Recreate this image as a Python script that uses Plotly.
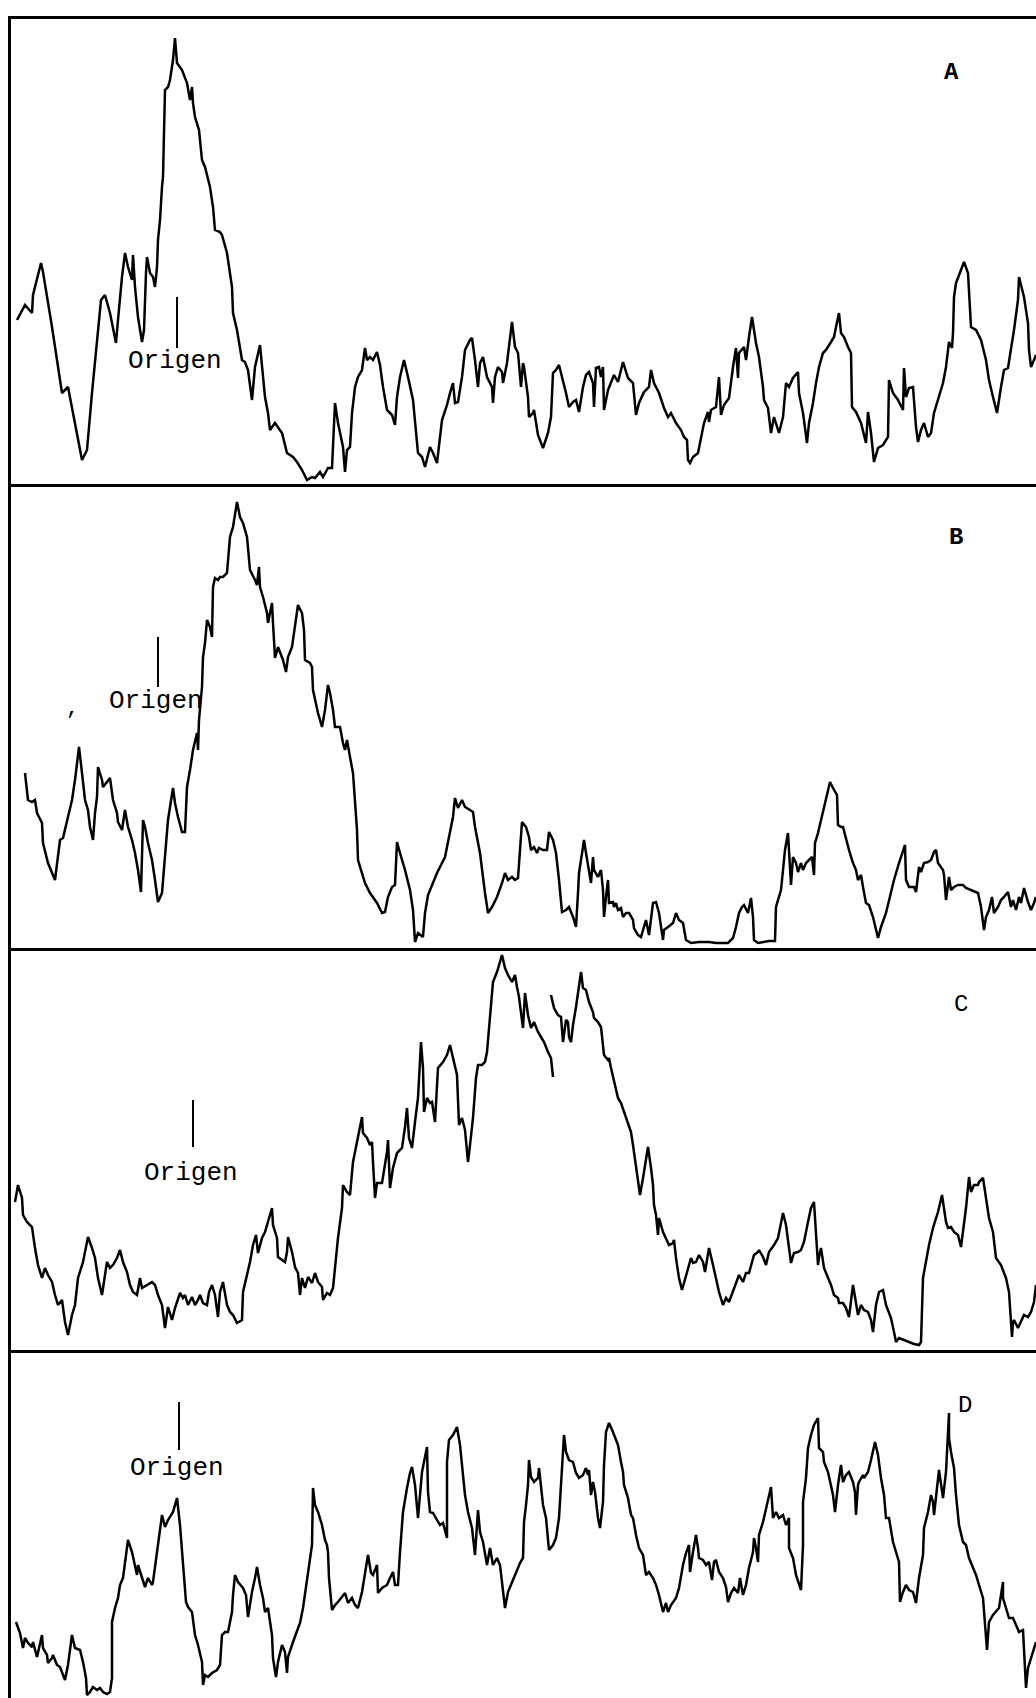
import plotly.graph_objects as go

# ---- Panel A : densitometer trace (position along strip, density above baseline)
a_pos = [17,25,32,33,41,43,52,62,68,82,87,92,101,105,110,116,118,122,125,128,132,133,135,138,142,144,146,147,150,153,155,157,158,160,162,163,164,165,168,170,173,175,177,182,187,190,192,193,195,199,202,205,210,213,215,220,222,227,232,233,237,240,242,245,248,252,255,260,262,265,268,270,275,278,282,287,293,297,302,307,312,315,320,323,328,332,335,338,343,345,347,350,352,355,358,362,365,367,370,373,377,380,383,387,392,395,397,400,404,408,413,418,422,425,430,433,437,442,447,450,453,455,458,462,465,470,472,475,478,480,483,487,492,493,495,498,502,503,507,512,515,518,
         521,523,524,528,529,533,534,538,543,548,551,553,556,559,563,566,569,573,576,579,583,586,589,593,594,596,599,601,603,604,608,611,614,618,621,623,628,633,636,639,644,649,651,654,659,664,668,671,676,681,684,687,688,690,693,698,701,704,708,709,711,716,719,721,724,729,733,736,738,739,744,746,749,752,756,759,763,764,768,771,774,778,779,783,786,789,793,798,799,803,807,809,813,816,819,823,826,831,834,836,839,841,844,848,851,852,856,861,866,868,871,874,878,883,888,889,893,898,903,904,906,909,913,916,918,921,924,928,931,934,939,943,946,948,949,952,953,954,956,961,964,968,971,976,981,986,989,993,997,1001,1004,1008,1011,1014,1018,1019,1024,1028,1029,1031,1034,1036]
a_val = [164,179,171,189,221,212,157,91,97,24,34,91,184,189,171,141,164,207,231,217,204,229,197,167,142,154,211,227,211,207,197,217,244,264,297,307,351,394,397,404,424,446,421,414,401,384,397,381,367,354,324,317,297,277,254,252,249,231,197,171,154,134,124,122,114,84,117,139,117,87,71,54,61,57,51,31,27,22,14,4,7,6,12,7,16,16,81,61,37,12,34,37,71,97,107,114,136,124,127,124,132,119,97,74,69,59,87,107,124,107,84,31,27,17,37,31,21,64,79,91,101,81,82,107,134,144,146,124,97,121,127,107,97,81,107,117,112,101,121,162,137,131,
         97,121,117,87,67,71,74,49,36,51,67,111,114,119,104,91,77,82,84,72,97,109,112,101,77,116,117,107,117,74,94,101,109,102,114,122,106,101,69,81,92,97,114,101,91,76,67,71,61,54,47,44,24,21,27,31,46,61,72,62,74,77,107,69,79,86,117,136,106,131,137,124,147,167,141,127,97,84,76,51,67,52,51,67,101,97,106,112,91,71,41,61,81,101,117,131,134,142,147,157,171,151,147,137,131,77,72,61,41,72,51,22,36,39,47,104,91,84,74,116,87,96,97,57,42,54,61,47,51,71,87,101,117,134,142,136,151,187,201,214,222,211,157,154,144,124,104,87,71,97,114,116,134,154,184,207,187,161,134,117,124,129]

# ---- Panel B
b_pos = [25,28,32,35,37,42,43,48,55,58,60,63,67,72,75,79,82,85,88,90,93,95,97,98,102,103,107,110,113,117,118,122,125,128,132,135,138,141,143,145,148,152,155,158,162,165,168,173,175,178,182,185,187,190,193,197,198,199,202,203,205,207,210,212,213,215,218,220,223,227,228,230,233,237,240,243,247,248,250,255,257,259,260,263,267,268,272,273,275,278,283,286,288,292,295,298,302,304,305,310,312,313,318,322,325,328,330,333,335,340,343,345,347,348,350,353,355,357,358,362,365,370,375,377,382,385,388,392,395,397,400,405,410,413,415,418,423,425,428,433,437,442,445,447,450,453,455,458,462,465,470,473,475,480,485,488,492,497,502,505,508,512,515,518,522,526,529,531,534,537,539,543,547,549,553,556,559,562,566,569,573,576,578,579,583,584,586,589,591,593,594,598,601,603,604,606,608,609,613,614,616,618,621,623,626,629,633,634,638,641,644,646,649,653,656,659,663,664,668,673,676,679,683,686,691,699,709,716,728,733,736,739,742,744,748,751,753,754,758,763,769,775,776,778,781,783,785,788,789,791,793,796,798,801,803,806,809,812,814,815,818,821,824,828,830,833,837,838,841,843,846,849,853,856,858,861,863,866,869,873,878,881,886,889,894,899,905,906,909,914,916,919,921,924,928,931,934,936,938,943,944,946,949,951,954,958,963,966,971,978,981,983,984,986,989,992,994,998,1001,1004,1008,1011,1013,1016,1019,1021,1024,1028,1031,1034,1036]
b_val = [175,148,146,148,135,125,105,85,68,91,108,110,128,148,168,201,175,148,138,121,108,135,151,181,168,161,166,170,148,135,126,118,138,121,108,95,78,56,128,121,105,88,68,46,55,95,128,160,145,131,116,116,161,178,198,215,198,228,261,291,305,328,321,311,361,370,368,371,371,375,388,411,421,446,431,425,411,398,378,368,363,381,361,351,335,325,345,325,290,301,288,276,291,301,321,343,335,318,288,285,281,258,235,221,238,263,255,238,221,221,205,198,208,201,191,175,151,118,88,75,65,55,48,45,35,36,51,61,63,106,95,78,58,38,6,15,11,35,53,65,75,85,91,101,115,131,150,140,148,141,138,136,121,95,55,35,41,51,65,75,68,71,68,70,126,121,111,98,101,95,100,98,98,116,108,95,68,36,38,41,31,21,55,75,101,108,95,78,65,91,78,71,78,58,31,51,68,45,46,41,45,38,40,31,35,35,28,20,13,11,20,28,13,45,46,35,8,18,21,25,35,28,25,8,5,6,6,5,5,10,21,35,41,43,35,50,31,8,5,6,7,7,41,48,58,78,98,115,95,63,91,85,76,85,78,85,88,91,73,105,115,128,141,155,166,160,153,123,121,121,108,98,85,78,68,73,61,45,43,31,10,21,35,48,68,85,103,68,61,61,56,81,76,85,86,88,96,98,85,78,73,48,71,58,61,63,63,60,58,55,41,25,18,31,38,51,35,41,48,51,56,41,48,38,51,45,60,46,38,45,51]

# ---- Panel C (None = pen lift in the original trace)
c_pos = [15,18,22,23,27,32,35,38,42,45,48,52,55,58,62,65,68,72,75,78,83,88,92,95,98,102,105,107,110,113,117,120,123,127,130,133,137,140,142,147,152,155,158,162,163,165,168,172,175,180,183,185,188,192,195,198,200,203,207,209,212,215,218,220,223,227,230,233,237,242,243,247,250,253,256,258,262,265,268,272,273,277,278,282,285,287,288,292,295,298,300,302,305,308,312,315,318,322,323,327,330,333,335,338,342,343,347,350,353,358,362,363,367,370,372,373,375,377,382,387,388,390,393,397,402,405,407,409,412,415,418,421,423,424,427,430,432,435,437,438,443,447,450,453,457,459,462,465,468,470,473,476,478,482,485,487,490,492,493,497,502,505,508,512,515,517,519,523,525,528,531,534,538,541,544,548,551,553,None,551,554,558,561,563,564,566,568,569,571,573,576,579,581,583,586,589,593,594,598,601,603,604,608,609,611,613,616,618,621,624,628,631,633,636,640,643,646,648,651,653,654,656,658,659,663,666,669,673,674,676,679,682,686,689,691,693,696,699,703,705,709,713,716,719,723,726,729,734,739,743,746,749,753,754,758,759,763,766,769,774,778,783,786,789,791,794,798,801,804,808,811,814,816,818,819,821,824,828,831,834,838,839,843,846,849,853,856,858,861,864,868,871,873,876,879,883,886,891,894,896,899,904,909,914,919,921,923,926,929,933,938,942,944,946,948,951,954,958,961,963,966,969,971,974,978,979,983,986,989,993,996,1001,1006,1009,1012,1013,1014,1018,1021,1024,1028,1031,1034,1036]
c_val = [148,165,152,135,128,123,102,85,72,82,75,68,55,45,50,28,15,35,45,72,88,113,102,92,72,55,75,88,82,85,92,100,88,78,65,58,55,72,62,65,68,65,55,45,38,22,43,30,42,57,52,55,45,53,45,50,55,47,45,58,65,55,33,58,68,45,38,35,27,30,58,75,88,105,115,97,112,118,128,142,125,112,93,90,88,98,113,98,83,77,55,72,62,73,67,77,68,63,50,57,55,62,82,112,142,165,158,155,188,215,233,217,212,205,208,188,152,167,167,198,210,162,182,197,202,223,242,212,202,228,252,308,282,238,252,247,248,228,258,282,288,295,305,292,275,225,232,220,188,205,232,272,285,285,288,298,335,358,368,378,395,382,375,368,375,363,353,322,357,335,322,328,318,313,308,298,292,273,None,355,342,335,333,308,315,330,328,313,308,325,343,362,378,362,360,348,338,332,328,323,308,295,290,292,282,273,258,252,247,238,228,218,205,185,155,172,192,203,182,165,145,135,115,132,118,112,105,107,110,92,72,60,75,85,92,87,88,95,88,78,102,85,72,58,45,52,48,62,75,68,77,77,90,95,98,100,93,85,98,105,112,137,125,105,87,97,98,100,108,128,142,148,112,85,93,102,82,72,65,55,52,47,47,42,33,65,45,35,45,40,38,30,18,45,58,60,45,32,18,8,12,10,8,6,5,8,72,88,105,122,138,155,142,128,122,123,118,115,103,118,142,173,158,165,165,168,172,152,132,118,92,85,72,58,13,28,30,22,28,35,33,38,48,65]

# ---- Panel D
d_pos = [16,20,23,25,28,32,33,37,42,43,47,48,52,53,57,60,65,68,72,75,80,83,86,87,90,93,97,100,103,107,110,112,112,115,118,120,123,128,132,135,137,138,142,145,148,152,153,157,159,162,165,168,173,177,180,183,186,188,192,195,198,202,203,205,208,212,217,220,222,225,228,232,233,235,238,243,246,248,252,255,257,260,263,265,268,272,273,276,278,282,285,287,288,293,297,300,303,307,308,312,313,315,318,322,325,327,328,329,332,335,338,342,345,348,352,355,358,362,365,368,371,373,377,378,382,387,390,393,395,398,400,403,407,410,412,415,418,422,427,428,430,433,437,440,443,447,447,448,449,453,457,460,463,465,468,472,475,478,480,483,487,490,493,497,500,503,505,508,512,515,518,520,
         523,524,526,528,529,531,534,538,539,541,543,546,549,553,556,559,561,563,564,566,569,573,576,579,583,586,588,589,591,593,595,598,600,603,604,606,609,613,616,618,621,623,624,628,631,633,636,639,643,646,649,653,656,659,663,666,668,671,676,679,683,686,689,690,693,696,698,699,703,706,709,712,714,716,719,723,726,728,731,734,738,740,743,746,749,753,754,756,758,759,763,766,771,773,776,779,783,786,789,789,793,796,799,801,803,803,806,808,811,814,818,819,823,824,828,831,833,835,838,841,843,846,849,853,855,856,858,859,863,864,868,871,875,878,881,884,886,889,893,896,899,900,903,906,909,913,916,919,923,924,928,931,933,934,936,939,943,946,949,949,951,954,956,959,963,966,969,973,976,979,983,987,989,993,996,999,1003,1003,1006,1009,1013,1016,1019,1023,1024,1026,1028,1031,1036]
d_val = [76,65,50,60,55,51,56,41,63,50,43,35,40,43,33,31,18,33,63,50,48,36,20,3,6,11,8,10,6,4,6,20,76,90,100,113,120,158,146,133,123,133,120,111,120,113,116,146,166,183,171,178,186,200,173,136,96,91,86,63,53,36,13,23,21,25,28,33,63,66,66,86,103,123,116,110,103,81,106,120,131,113,100,86,90,63,40,21,36,53,46,25,41,56,66,75,90,120,128,153,210,193,186,173,158,153,146,120,88,93,96,101,105,95,100,93,90,106,126,143,125,123,133,105,110,113,120,126,113,113,146,186,210,225,231,213,180,226,251,206,186,185,178,173,175,160,236,250,258,263,271,253,226,203,186,170,143,188,166,156,133,150,133,140,133,110,90,106,116,123,130,135,
         140,176,193,213,238,221,216,220,230,210,193,180,148,153,160,180,213,240,263,246,238,236,225,220,223,230,223,228,203,216,206,180,170,196,233,266,275,266,258,253,236,226,213,200,183,180,163,150,143,123,126,120,113,103,86,95,86,93,100,110,133,145,153,126,146,163,150,140,138,133,136,118,136,138,126,120,111,96,105,110,105,120,103,113,130,146,160,150,136,163,176,188,211,180,186,180,183,173,180,150,140,123,113,108,153,196,220,250,263,273,280,250,246,236,226,213,203,186,213,233,216,223,226,216,206,183,213,216,223,220,226,238,256,243,220,203,180,180,156,146,136,96,106,113,108,106,95,120,143,170,186,203,196,183,200,228,200,226,285,260,246,230,203,173,156,153,140,130,123,113,100,48,76,83,86,90,116,100,90,80,80,73,66,68,48,10,30,40,56]

panels = ["A", "B", "C", "D"]
positions = [a_pos, b_pos, c_pos, d_pos]
values = [a_val, b_val, c_val, d_val]

# origin marker position (strip units) and tick extent / label position (density units)
origin_pos = [177, 158, 193, 179]
origin_tick = [(136, 187), (261, 311), (203, 250), (248, 296)]
origin_label_y = [123, 247, 177, 230]
panel_label_pos = [(951, 411), (956, 411), (961, 346), (965, 293)]

# page layout (pixels of the 1036 x 1698 page)
W, H = 1036, 1698
edges = [19, 484, 948, 1350, 1698]
left = 11

fig = go.Figure()
for i in range(4):
    n = "" if i == 0 else str(i + 1)
    fig.add_trace(go.Scatter(x=positions[i], y=values[i], mode="lines",
                             line=dict(color="black", width=2.5),
                             connectgaps=False, hoverinfo="skip",
                             xaxis="x" + n, yaxis="y" + n, showlegend=False))
    t0, t1 = origin_tick[i]
    fig.add_trace(go.Scatter(x=[origin_pos[i], origin_pos[i]], y=[t0, t1], mode="lines",
                             line=dict(color="black", width=2), hoverinfo="skip",
                             xaxis="x" + n, yaxis="y" + n, showlegend=False))
    fig.add_annotation(x=origin_pos[i] - 2, y=origin_label_y[i], xref="x" + n, yref="y" + n,
                       text="Origen", showarrow=False,
                       font=dict(family="Liberation Mono", size=26, color="black"))
    lx, ly = panel_label_pos[i]
    fig.add_annotation(x=lx, y=ly, xref="x" + n, yref="y" + n,
                       text="<b>%s</b>" % panels[i] if i < 2 else panels[i], showarrow=False,
                       font=dict(family="Liberation Mono", size=24, color="black"))

    top, bot = edges[i], edges[i + 1]
    dom_y = [1 - bot / H, 1 - top / H]
    fig.update_layout(**{
        "xaxis" + n: dict(domain=[left / W, 1], range=[left, W], showgrid=False, zeroline=False,
                          showticklabels=False, ticks="", showline=(i < 3), linecolor="black",
                          linewidth=2.5, mirror=(i == 0), anchor="y" + n, fixedrange=True),
        "yaxis" + n: dict(domain=dom_y, range=[0, bot - top], showgrid=False, zeroline=False,
                          showticklabels=False, ticks="", showline=True, linecolor="black",
                          linewidth=2.5, anchor="x" + n, fixedrange=True),
    })

# stray comma mark in panel B and cut-off page number at top
fig.add_annotation(x=72, y=240, xref="x2", yref="y2", text=",", showarrow=False,
                   font=dict(family="Liberation Mono", size=22, color="black"))
fig.add_annotation(x=546, y=1 - 8 / H, xref="x", yref="paper", text="63", showarrow=False,
                   yanchor="bottom", font=dict(family="Liberation Mono", size=24, color="black"))

fig.update_layout(width=W, height=H, margin=dict(l=0, r=0, t=0, b=0),
                  paper_bgcolor="white", plot_bgcolor="white")
fig.write_html("out.html", config={"displayModeBar": False},
               post_script="document.body.style.margin='0px';document.body.style.overflow='hidden';")
